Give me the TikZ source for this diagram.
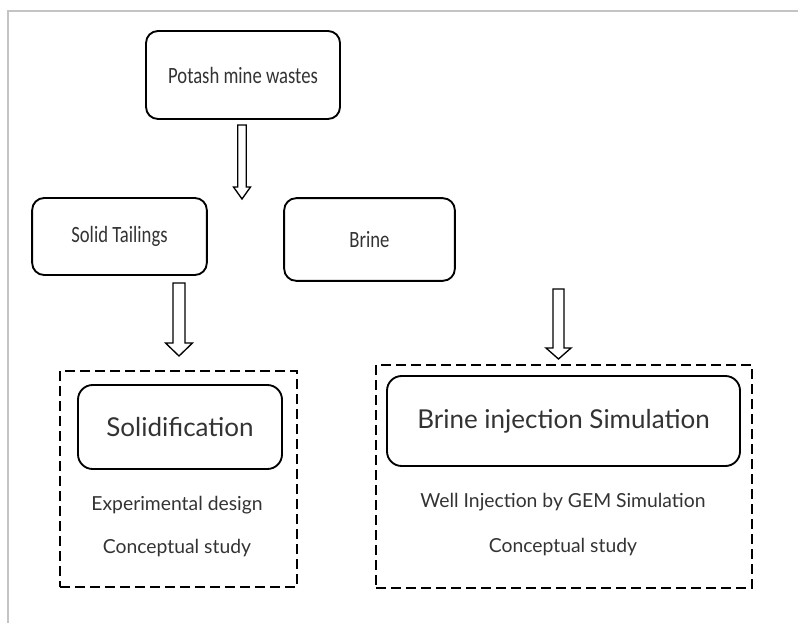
\documentclass[tikz,border=0pt]{standalone}
\usepackage{fontspec}
\setmainfont{Lato}
\newfontfamily\headfont[FakeStretch=0.80]{Carlito}
\definecolor{txt}{HTML}{333333}
\definecolor{framegray}{HTML}{C4C4C4}
% downward block arrow: top-centre, shaft half-width, head half-width, shaft length, head length
\newcommand\blockdown[5]{%
  \draw[blockarr] (#1) ++({-#2},0) -- ++(0,#4) -- ++({#2-#3},0) -- ++(#3,#5)
    -- ++(#3,{-#5}) -- ++({#2-#3},0) -- ++(0,{-#4}) -- cycle;}
\begin{document}
\begin{tikzpicture}[x=0.75pt,y=-0.75pt,
  box/.style={draw=black, line width=1.4pt, rounded corners=9pt, fill=white,
    text=txt, inner sep=0pt, align=center},
  headbox/.style={box, font=\headfont\fontsize{17.5}{20}\selectfont},
  subbox/.style={box, rounded corners=11pt, font=\fontsize{19.5}{23}\selectfont},
  group/.style={draw=black, line width=1.4pt, dash pattern=on 7.5pt off 3.75pt,
    inner sep=0pt},
  note/.style={text=txt, inner sep=0pt, font=\fontsize{14.5}{17}\selectfont},
  blockarr/.style={draw=black, line width=1pt, fill=white, line join=miter}]
\useasboundingbox (0,0) rectangle (798,623);
\fill[white] (0,0) rectangle (798,623);
\draw[framegray, line width=0.9pt] (8,623) -- (8,11) -- (798,11);

% first level
\node[headbox, minimum width=145.5pt, minimum height=66pt] (waste) at (243,75) {Potash mine wastes};
\node[headbox, minimum width=131pt, minimum height=57.75pt] (solid) at (119.5,236.5) {Solid Tailings};
\node[headbox, minimum width=128pt, minimum height=62pt] (brine) at (369.5,239.5) {Brine};

% dashed groups
\node[group, minimum width=177.75pt, minimum height=162pt] (gsolid) at (178.5,479) {};
\node[group, minimum width=282pt, minimum height=167.25pt] (gbrine) at (564,476.5) {};

% second level
\node[subbox, minimum width=153pt, minimum height=63pt] (solidif) at (180,427) {Solidification};
\node[subbox, minimum width=264.75pt, minimum height=67.5pt] (inject) at (563.5,421) {Brine injection Simulation};

\node[note] (expdes) at (177,505) {Experimental design};
\node[note] (concl) at (177,548) {Conceptual study};
\node[note] (gem) at (563,502) {Well Injection by GEM Simulation};
\node[note] (concr) at (563,547) {Conceptual study};

% block arrows
\coordinate (a1) at (242,125);
\coordinate (a2) at (179,283);
\coordinate (a3) at (558.5,289);
\blockdown{a1}{4.3}{8.5}{62}{12}
\blockdown{a2}{6}{13.5}{60}{13}
\blockdown{a3}{5.5}{12.5}{59}{11}
\end{tikzpicture}
\end{document}
